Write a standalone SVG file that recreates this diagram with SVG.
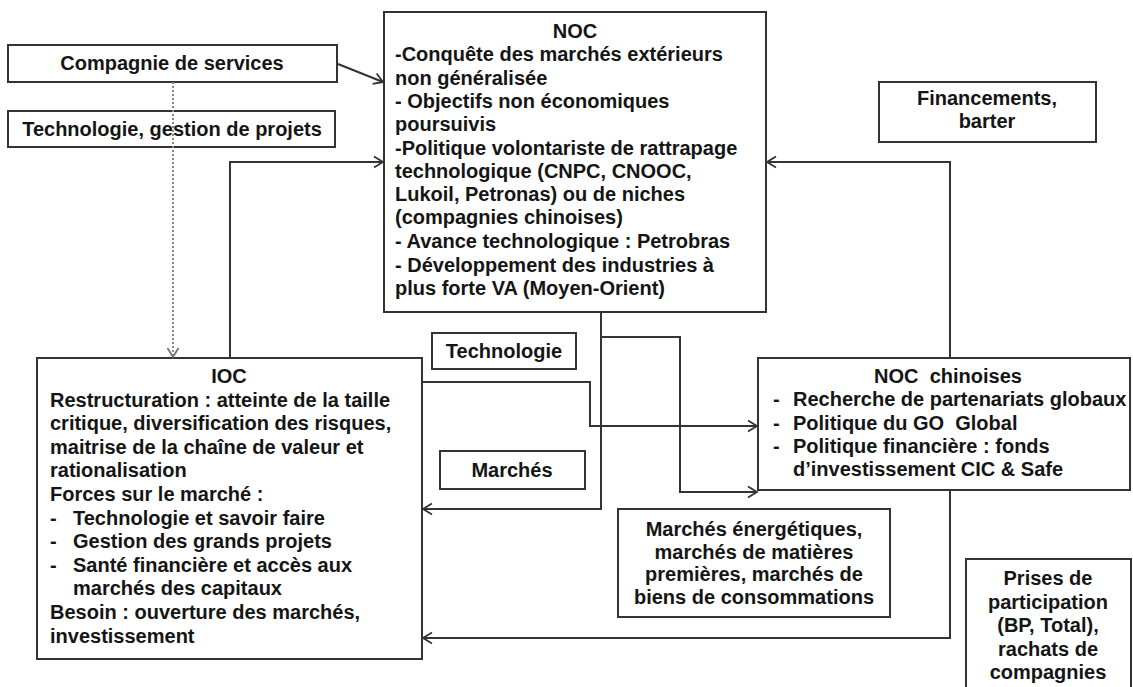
<svg xmlns="http://www.w3.org/2000/svg" width="1133" height="687" viewBox="0 0 1133 687">
<style>
.box{fill:#fff;stroke:#333;stroke-width:2}
.t{font-family:"Liberation Sans",Arial,sans-serif;font-size:20px;font-weight:bold;fill:#151515;white-space:pre}
.c{text-anchor:middle}
.ln{fill:none;stroke:#333;stroke-width:2}
.dot{fill:none;stroke:#888;stroke-width:2;stroke-dasharray:2 2}
</style>
<defs>
<marker id="arr" markerUnits="userSpaceOnUse" markerWidth="14" markerHeight="14" refX="12" refY="7" orient="auto">
<path d="M3,1.5 L12,7 L3,12.5" fill="none" stroke="#333" stroke-width="1.8"/>
</marker>
<marker id="arrg" markerUnits="userSpaceOnUse" markerWidth="14" markerHeight="14" refX="12" refY="7" orient="auto">
<path d="M3,1.5 L12,7 L3,12.5" fill="none" stroke="#777" stroke-width="1.8"/>
</marker>
</defs>
<rect width="1133" height="687" fill="#fff"/>

<g id="compagnie">
<rect class="box" x="8" y="45" width="329" height="37"/>
<text class="t c" x="172" y="70">Compagnie de services</text>
</g>
<g id="techgestion">
<rect class="box" x="8" y="111" width="327" height="36"/>
<text class="t c" x="172" y="136">Technologie, gestion de projets</text>
</g>
<g id="noc">
<rect class="box" x="384" y="12" width="382" height="300"/>
<text class="t c" x="575" y="38">NOC</text>
<text class="t" x="395" y="61.3">-Conquête des marchés extérieurs</text>
<text class="t" x="395" y="84.6">non généralisée</text>
<text class="t" x="395" y="107.9">- Objectifs non économiques</text>
<text class="t" x="395" y="131.2">poursuivis</text>
<text class="t" x="395" y="154.5">-Politique volontariste de rattrapage</text>
<text class="t" x="395" y="177.8">technologique (CNPC, CNOOC,</text>
<text class="t" x="395" y="201.1">Lukoil, Petronas) ou de niches</text>
<text class="t" x="395" y="224.4">(compagnies chinoises)</text>
<text class="t" x="395" y="248">- Avance technologique : Petrobras</text>
<text class="t" x="395" y="271.5">- Développement des industries à</text>
<text class="t" x="395" y="295">plus forte VA (Moyen-Orient)</text>
</g>
<g id="financements">
<rect class="box" x="879" y="82" width="217" height="60"/>
<text class="t c" x="987" y="105">Financements,</text>
<text class="t c" x="987" y="128">barter</text>
</g>
<g id="technologie">
<rect class="box" x="432" y="333" width="144" height="36"/>
<text class="t c" x="504" y="358">Technologie</text>
</g>
<g id="marches">
<rect class="box" x="440" y="451" width="145" height="38"/>
<text class="t c" x="512" y="477">Marchés</text>
</g>
<g id="ioc">
<rect class="box" x="37" y="358" width="385" height="301"/>
<text class="t c" x="229" y="383">IOC</text>
<text class="t" x="50" y="406.6">Restructuration : atteinte de la taille</text>
<text class="t" x="50" y="430.2">critique, diversification des risques,</text>
<text class="t" x="50" y="453.8">maitrise de la chaîne de valeur et</text>
<text class="t" x="50" y="477.4">rationalisation</text>
<text class="t" x="50" y="501">Forces sur le marché :</text>
<text class="t" x="50" y="524.6">-</text><text class="t" x="73" y="524.6">Technologie et savoir faire</text>
<text class="t" x="50" y="548.2">-</text><text class="t" x="73" y="548.2">Gestion des grands projets</text>
<text class="t" x="50" y="571.8">-</text><text class="t" x="73" y="571.8">Santé financière et accès aux</text>
<text class="t" x="73" y="595.4">marchés des capitaux</text>
<text class="t" x="50" y="619">Besoin : ouverture des marchés,</text>
<text class="t" x="50" y="642.6">investissement</text>
</g>
<g id="nocchinoises">
<rect class="box" x="758" y="358" width="372" height="132"/>
<text class="t c" x="948" y="383">NOC  chinoises</text>
<text class="t" x="773" y="406">-</text><text class="t" x="793" y="406">Recherche de partenariats globaux</text>
<text class="t" x="773" y="429.5">-</text><text class="t" x="793" y="429.5">Politique du GO  Global</text>
<text class="t" x="773" y="453">-</text><text class="t" x="793" y="453">Politique financière : fonds</text>
<text class="t" x="793" y="476">d’investissement CIC &amp; Safe</text>
</g>
<g id="marchesenergetiques">
<rect class="box" x="618" y="509" width="272" height="108"/>
<text class="t c" x="754" y="536">Marchés énergétiques,</text>
<text class="t c" x="754" y="558.5">marchés de matières</text>
<text class="t c" x="754" y="581">premières, marchés de</text>
<text class="t c" x="754" y="603.5">biens de consommations</text>
</g>
<g id="prises">
<rect class="box" x="966" y="559" width="165" height="140"/>
<text class="t c" x="1048" y="585">Prises de</text>
<text class="t c" x="1048" y="608.5">participation</text>
<text class="t c" x="1048" y="632">(BP, Total),</text>
<text class="t c" x="1048" y="655.5">rachats de</text>
<text class="t c" x="1048" y="679">compagnies</text>
</g>

<g id="connectors">
<path class="ln" d="M338,64 L383,82" marker-end="url(#arr)"/>
<path class="ln" d="M230,358 V162 H383" marker-end="url(#arr)"/>
<path class="dot" d="M173,82 V357" marker-end="url(#arrg)"/>
<path class="ln" d="M422,382 H590 V426 H757" marker-end="url(#arr)"/>
<path class="ln" d="M601,312 V509 H423" marker-end="url(#arr)"/>
<path class="ln" d="M601,337 H680 V492 H757" marker-end="url(#arr)"/>
<path class="ln" d="M950,358 V162 H767" marker-end="url(#arr)"/>
<path class="ln" d="M950,490 V638 H423" marker-end="url(#arr)"/>
</g>
</svg>
